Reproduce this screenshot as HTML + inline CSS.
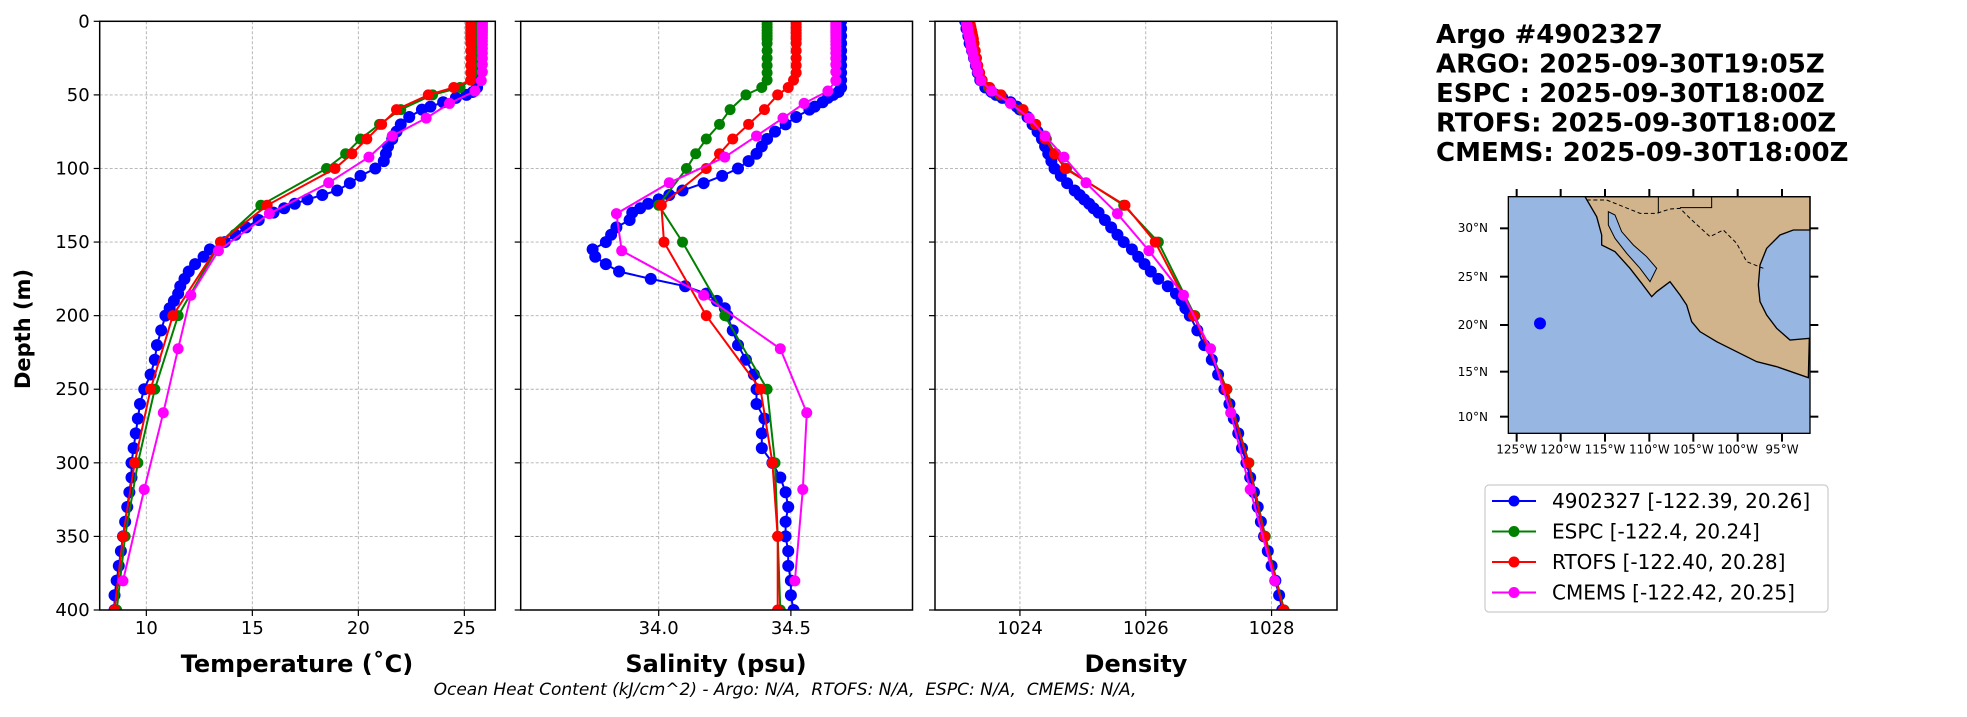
<!DOCTYPE html>
<html><head><meta charset="utf-8"><style>
body{margin:0;background:#fff;}
svg text{font-family:"DejaVu Sans","Liberation Sans",sans-serif;}
</style></head><body>
<svg id="fig" width="1967" height="712" viewBox="0 0 1967 712" xmlns="http://www.w3.org/2000/svg">
<rect width="1967" height="712" fill="#fff"/>
<g id="plots"></g>
<text x="0" y="0" transform="translate(30,329) rotate(-90)" text-anchor="middle" font-size="21" font-weight="bold">Depth (m)</text>
<text x="297" y="672" text-anchor="middle" font-size="24" font-weight="bold">Temperature (˚C)</text>
<text x="716" y="672" text-anchor="middle" font-size="24" font-weight="bold">Salinity (psu)</text>
<text x="1136" y="672" text-anchor="middle" font-size="24" font-weight="bold">Density</text>
<text x="785" y="695" text-anchor="middle" font-size="17" font-style="italic" style="white-space:pre">Ocean Heat Content (kJ/cm^2) - Argo: N/A,  RTOFS: N/A,  ESPC: N/A,  CMEMS: N/A,</text>
<g font-size="26" font-weight="bold">
<text x="1436" y="43">Argo #4902327</text>
<text x="1436" y="72.5">ARGO: 2025-09-30T19:05Z</text>
<text x="1436" y="102">ESPC : 2025-09-30T18:00Z</text>
<text x="1436" y="131.5">RTOFS: 2025-09-30T18:00Z</text>
<text x="1436" y="161">CMEMS: 2025-09-30T18:00Z</text>
</g>
<svg x="1490" y="185" width="330" height="270" viewBox="0 0 990 810">
<rect x="55" y="35" width="905" height="710" fill="#97b6e1"/>
<polygon fill="#d2b48c" stroke="#000" stroke-width="4" points="285,35 320,95 335,150 335,180 375,200 420,250 455,295 485,335 500,320 540,290 570,330 590,360 605,410 630,440 680,470 740,500 800,530 860,545 955,578 958,460 900,465 860,430 830,390 810,350 805,300 810,240 830,190 870,150 910,135 960,135 960,35"/>
<polygon fill="#97b6e1" stroke="#000" stroke-width="3" points="355,80 375,90 395,140 430,180 470,215 500,250 480,290 450,250 410,205 375,160 355,120"/>
<polyline fill="none" stroke="#000" stroke-width="3" stroke-dasharray="12,8" points="290,45 350,45 450,85 500,85 540,72 570,70 600,100 660,155 700,135 740,175 770,230 820,250"/>
<polyline fill="none" stroke="#000" stroke-width="3" points="505,35 505,85"/>
<polyline fill="none" stroke="#000" stroke-width="3" points="570,68 665,68 665,35"/>
<rect x="55" y="35" width="905" height="710" fill="none" stroke="#000" stroke-width="4"/>
<circle cx="150" cy="415" r="18" fill="#0000ff"/>
<g id="mapticks" stroke="#000" stroke-width="6"></g>
<g font-size="36" text-anchor="middle">
<text x="80" y="805">125°W</text><text x="212" y="805">120°W</text><text x="345" y="805">115°W</text><text x="478" y="805">110°W</text><text x="610" y="805">105°W</text><text x="743" y="805">100°W</text><text x="876" y="805">95°W</text>
</g>
</svg>
<g font-size="12" text-anchor="end">
<text x="1488" y="232">30°N</text><text x="1488" y="281">25°N</text><text x="1488" y="329">20°N</text><text x="1488" y="376">15°N</text><text x="1488" y="421">10°N</text>
</g>
<g>
<rect x="1485" y="485" width="343" height="127" rx="4" fill="#fff" stroke="#ccc" stroke-width="1.2"/>
<g id="legend-items"></g>
</g>
</svg>
<script>
// ---- data ----
const argoDepth=[0,5,10,15,20,25,30,35,40,45,48,50,52,55,58,60,65,70,75,80,85,90,95,100,105,110,115,118,121,124,127,130,135,140,145,150,155,160,165,170,175,180,185,190,195,200,210,220,230,240,250,260,270,280,290,300,310,320,330,340,350,360,370,380,390,400];
const argoTemp=[25.7,25.7,25.7,25.7,25.7,25.7,25.7,25.7,25.7,25.6,25.4,25.1,24.6,24.0,23.4,23.0,22.4,22.0,21.8,21.6,21.4,21.3,21.2,20.8,20.1,19.6,19.0,18.3,17.6,17.0,16.5,16.0,15.3,14.7,14.2,13.7,13.0,12.7,12.3,12.0,11.8,11.6,11.5,11.3,11.1,10.9,10.7,10.5,10.4,10.2,9.9,9.7,9.6,9.5,9.4,9.3,9.3,9.2,9.1,9.0,8.9,8.8,8.7,8.6,8.5,8.5];
const argoSal=[34.69,34.69,34.69,34.69,34.69,34.69,34.69,34.69,34.69,34.69,34.68,34.66,34.64,34.62,34.59,34.57,34.52,34.48,34.44,34.41,34.39,34.37,34.34,34.30,34.24,34.17,34.09,34.04,34.00,33.96,33.93,33.90,33.89,33.84,33.82,33.80,33.75,33.76,33.80,33.85,33.97,34.10,34.18,34.22,34.25,34.26,34.28,34.30,34.33,34.36,34.37,34.37,34.40,34.39,34.39,34.43,34.46,34.48,34.49,34.48,34.48,34.49,34.49,34.50,34.50,34.51];
const argoDens=[1023.13,1023.15,1023.18,1023.2,1023.24,1023.27,1023.3,1023.33,1023.37,1023.45,1023.55,1023.62,1023.72,1023.85,1023.95,1024.0,1024.12,1024.2,1024.28,1024.35,1024.4,1024.45,1024.5,1024.55,1024.65,1024.75,1024.87,1024.95,1025.02,1025.1,1025.17,1025.25,1025.35,1025.45,1025.55,1025.65,1025.78,1025.88,1025.98,1026.08,1026.2,1026.35,1026.48,1026.57,1026.63,1026.7,1026.82,1026.93,1027.05,1027.15,1027.25,1027.33,1027.4,1027.47,1027.53,1027.6,1027.66,1027.72,1027.78,1027.83,1027.88,1027.94,1028.0,1028.06,1028.12,1028.17];
const modelDepth=[0,2,4,6,8,10,12,15,20,25,30,35,40,45,50,60,70,80,90,100,125,150,200,250,300,350,400];
const espcTemp=[25.4,25.4,25.4,25.4,25.4,25.4,25.4,25.4,25.4,25.4,25.4,25.4,25.3,24.8,23.5,22.0,21.0,20.1,19.4,18.5,15.4,13.5,11.5,10.4,9.6,9.0,8.6];
const espcSal=[34.41,34.41,34.41,34.41,34.41,34.41,34.41,34.41,34.41,34.41,34.41,34.41,34.41,34.39,34.33,34.27,34.23,34.18,34.14,34.105,34.0,34.09,34.25,34.41,34.44,34.45,34.46];
const espcDens=[1023.17,1023.18,1023.19,1023.2,1023.21,1023.22,1023.23,1023.25,1023.27,1023.29,1023.31,1023.34,1023.38,1023.5,1023.68,1024.03,1024.25,1024.42,1024.57,1024.74,1025.65,1026.2,1026.78,1027.29,1027.64,1027.9,1028.2];
const rtofsTemp=[25.3,25.3,25.3,25.3,25.3,25.3,25.3,25.3,25.3,25.3,25.3,25.3,25.3,24.5,23.3,21.8,21.1,20.4,19.7,18.9,15.7,13.5,11.25,10.2,9.45,8.9,8.5];
const rtofsSal=[34.52,34.52,34.52,34.52,34.52,34.52,34.52,34.52,34.52,34.52,34.52,34.52,34.51,34.49,34.45,34.40,34.34,34.28,34.23,34.18,34.01,34.02,34.18,34.385,34.43,34.45,34.45];
const rtofsDens=[1023.2,1023.21,1023.22,1023.23,1023.24,1023.25,1023.26,1023.27,1023.29,1023.31,1023.33,1023.36,1023.4,1023.52,1023.7,1024.05,1024.25,1024.4,1024.55,1024.72,1025.67,1026.15,1026.76,1027.28,1027.63,1027.89,1028.19];
const cmemsDepth=[0.5,1.5,2.6,3.8,5.1,6.4,7.9,9.6,11.4,13.5,15.8,18.5,21.6,25.2,29.4,34.4,40.3,47.4,55.8,65.8,77.9,92.3,109.7,130.7,155.9,186.1,222.5,266.0,318.1,380.2];
const cmemsTemp=[25.85,25.85,25.85,25.85,25.85,25.85,25.85,25.85,25.85,25.85,25.85,25.85,25.85,25.85,25.85,25.85,25.8,25.5,24.3,23.2,21.6,20.5,18.6,15.8,13.4,12.1,11.5,10.8,9.9,8.9];
const cmemsSal=[34.67,34.67,34.67,34.67,34.67,34.67,34.67,34.67,34.67,34.67,34.67,34.67,34.67,34.67,34.67,34.67,34.67,34.64,34.55,34.47,34.37,34.25,34.04,33.84,33.86,34.17,34.46,34.56,34.545,34.515];
const cmemsDens=[1023.15,1023.15,1023.16,1023.16,1023.17,1023.17,1023.18,1023.19,1023.2,1023.21,1023.22,1023.23,1023.25,1023.27,1023.3,1023.33,1023.38,1023.55,1023.85,1024.15,1024.4,1024.7,1025.05,1025.55,1026.05,1026.6,1027.03,1027.35,1027.66,1028.05];
const depthTicks=[0,50,100,150,200,250,300,350,400];
const tempTicks=[10,15,20,25];
const salTicks=[34.0,34.5];
const densTicks=[1024,1026,1028];
const tempTickLabels=["10","15","20","25"];
const salTickLabels=["34.0","34.5"];
const densTickLabels=["1024","1026","1028"];
const legendLabels=["4902327 [-122.39, 20.26]","ESPC [-122.4, 20.24]","RTOFS [-122.40, 20.28]","CMEMS [-122.42, 20.25]"];
const colors=["#0000ff","#008000","#ff0000","#ff00ff"];

// ---- layout ----
const NS="http://www.w3.org/2000/svg";
const TOP=21.3,BOT=610;
const yScale=d=>TOP+(d-0)/(400-0)*(BOT-TOP);
const panels=[
 {name:"temperature",x0:99.7,x1:495.3,min:7.80,max:26.46,ticks:tempTicks,labels:tempTickLabels,
  series:[[argoDepth,argoTemp],[modelDepth,espcTemp],[modelDepth,rtofsTemp],[cmemsDepth,cmemsTemp]]},
 {name:"salinity",x0:520.7,x1:912.5,min:33.478,max:34.96,ticks:salTicks,labels:salTickLabels,
  series:[[argoDepth,argoSal],[modelDepth,espcSal],[modelDepth,rtofsSal],[cmemsDepth,cmemsSal]]},
 {name:"density",x0:935,x1:1337,min:1022.65,max:1029.04,ticks:densTicks,labels:densTickLabels,
  series:[[argoDepth,argoDens],[modelDepth,espcDens],[modelDepth,rtofsDens],[cmemsDepth,cmemsDens]]}
];
const seriesNames=["argo","espc","rtofs","cmems"];
const plots=document.getElementById('plots');
function mk(tag,attrs,parent){const e=document.createElementNS(NS,tag);for(const k in attrs)e.setAttribute(k,attrs[k]);parent.appendChild(e);return e;}
panels.forEach((p,pi)=>{
 const xs=v=>p.x0+(v-p.min)/(p.max-p.min)*(p.x1-p.x0);
 const g=mk('g',{},plots);
 
 
 const clipId='clip'+pi;
 const cp=mk('clipPath',{id:clipId},g);mk('rect',{x:p.x0,y:TOP,width:p.x1-p.x0,height:BOT-TOP},cp);
 depthTicks.forEach(d=>{
  const l=mk('line',{x1:p.x0,x2:p.x1,y1:yScale(d),y2:yScale(d),stroke:'#b0b0b0','stroke-width':0.9,'stroke-dasharray':'3,2'},g);
  
  
  mk('line',{x1:p.x0-6,x2:p.x0,y1:yScale(d),y2:yScale(d),stroke:'#000','stroke-width':1.2},g);
  if(pi===0){const t=mk('text',{x:p.x0-10,y:yScale(d)+6,'text-anchor':'end','font-size':18},g);t.textContent=d;
   
   }
 });
 p.ticks.forEach((v,i)=>{
  const l=mk('line',{x1:xs(v),x2:xs(v),y1:TOP,y2:BOT,stroke:'#b0b0b0','stroke-width':0.9,'stroke-dasharray':'3,2'},g);
  
  
  mk('line',{x1:xs(v),x2:xs(v),y1:BOT,y2:BOT+6,stroke:'#000','stroke-width':1.2},g);
  const t=mk('text',{x:xs(v),y:BOT+24,'text-anchor':'middle','font-size':18},g);t.textContent=p.labels[i];
  
  
 });
 const sg=mk('g',{'clip-path':'url(#'+clipId+')'},g);
 p.series.forEach((s,si)=>{
  const [D,V]=s;
  const pts=D.map((d,i)=>xs(V[i]).toFixed(1)+','+yScale(d).toFixed(1)).join(' ');
  const pl=mk('polyline',{points:pts,fill:'none',stroke:colors[si],'stroke-width':2},sg);
  
  
  D.forEach((d,i)=>{
   const c=mk('circle',{cx:xs(V[i]),cy:yScale(d),r:si===0?6:5.5,fill:colors[si]},sg);
   
   
  });
 });
 const fr=mk('rect',{x:p.x0,y:TOP,width:p.x1-p.x0,height:BOT-TOP,fill:'none',stroke:'#000','stroke-width':1.5},g);
 
 
});
const li=document.getElementById('legend-items');
legendLabels.forEach((lab,i)=>{
 const y=501+i*30.5;
 const g=mk('g',{},li);
 
 
 mk('line',{x1:1492,x2:1536,y1:y,y2:y,stroke:colors[i],'stroke-width':2},g);
 mk('circle',{cx:1514,cy:y,r:5.5,fill:colors[i]},g);
 const t=mk('text',{x:1552,y:y+7,'font-size':20},g);t.textContent=lab;
});
const mt=document.getElementById('mapticks');
[80,212,345,478,610,743,876].forEach(x=>{mk('line',{x1:x,x2:x,y1:12,y2:35},mt);mk('line',{x1:x,x2:x,y1:745,y2:770},mt);});
[130,275,420,560,695].forEach(y=>{mk('line',{x1:30,x2:55,y1:y,y2:y},mt);mk('line',{x1:960,x2:985,y1:y,y2:y},mt);});
</script>
</body></html>
